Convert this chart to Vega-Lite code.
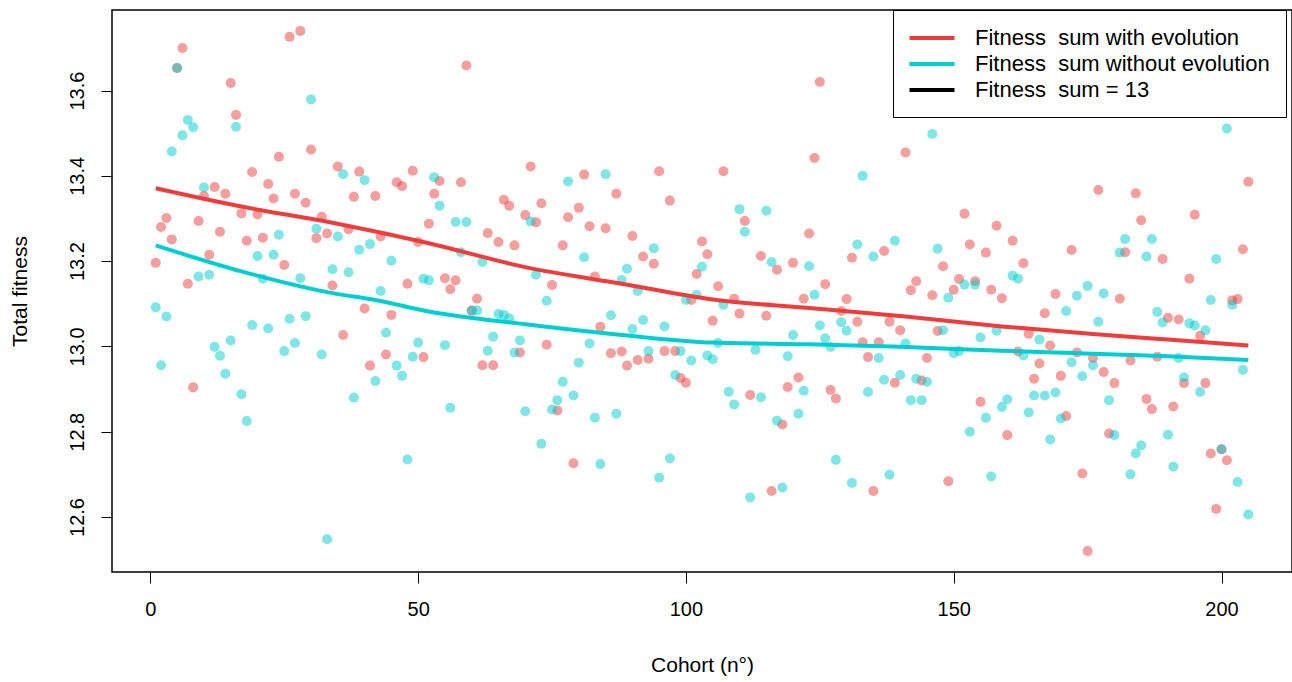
{
"$schema":"https://vega.github.io/schema/vega-lite/v6.json",
"width":1180,"height":562,
"autosize":{"type":"none"},
"padding":{"left":112,"top":10,"right":0,"bottom":110},
"background":"white",
"config":{"view":{"stroke":"black","strokeWidth":1.5},"font":"Liberation Sans"},
"datasets":{
"pts":[
{"cohort":1,"fitness":13.196,"series":"with"},{"cohort":2,"fitness":13.28,"series":"with"},{"cohort":3,"fitness":13.301,"series":"with"},{"cohort":4,"fitness":13.251,"series":"with"},{"cohort":5,"fitness":13.653,"series":"with"},{"cohort":6,"fitness":13.7,"series":"with"},{"cohort":7,"fitness":13.147,"series":"with"},{"cohort":8,"fitness":12.904,"series":"with"},{"cohort":9,"fitness":13.294,"series":"with"},{"cohort":10,"fitness":13.353,"series":"with"},
{"cohort":11,"fitness":13.215,"series":"with"},{"cohort":12,"fitness":13.374,"series":"with"},{"cohort":13,"fitness":13.269,"series":"with"},{"cohort":14,"fitness":13.358,"series":"with"},{"cohort":15,"fitness":13.618,"series":"with"},{"cohort":16,"fitness":13.543,"series":"with"},{"cohort":17,"fitness":13.312,"series":"with"},{"cohort":18,"fitness":13.248,"series":"with"},{"cohort":19,"fitness":13.409,"series":"with"},{"cohort":20,"fitness":13.31,"series":"with"},
{"cohort":21,"fitness":13.255,"series":"with"},{"cohort":22,"fitness":13.381,"series":"with"},{"cohort":23,"fitness":13.347,"series":"with"},{"cohort":24,"fitness":13.445,"series":"with"},{"cohort":25,"fitness":13.191,"series":"with"},{"cohort":26,"fitness":13.726,"series":"with"},{"cohort":27,"fitness":13.358,"series":"with"},{"cohort":28,"fitness":13.74,"series":"with"},{"cohort":29,"fitness":13.337,"series":"with"},{"cohort":30,"fitness":13.462,"series":"with"},
{"cohort":31,"fitness":13.254,"series":"with"},{"cohort":32,"fitness":13.304,"series":"with"},{"cohort":33,"fitness":13.265,"series":"with"},{"cohort":34,"fitness":13.143,"series":"with"},{"cohort":35,"fitness":13.422,"series":"with"},{"cohort":36,"fitness":13.027,"series":"with"},{"cohort":37,"fitness":13.275,"series":"with"},{"cohort":38,"fitness":13.351,"series":"with"},{"cohort":39,"fitness":13.41,"series":"with"},{"cohort":40,"fitness":13.089,"series":"with"},
{"cohort":41,"fitness":12.955,"series":"with"},{"cohort":42,"fitness":13.353,"series":"with"},{"cohort":43,"fitness":13.258,"series":"with"},{"cohort":44,"fitness":12.981,"series":"with"},{"cohort":45,"fitness":13.074,"series":"with"},{"cohort":46,"fitness":13.385,"series":"with"},{"cohort":47,"fitness":13.376,"series":"with"},{"cohort":48,"fitness":13.147,"series":"with"},{"cohort":49,"fitness":13.412,"series":"with"},{"cohort":50,"fitness":13.245,"series":"with"},
{"cohort":51,"fitness":12.975,"series":"with"},{"cohort":52,"fitness":13.288,"series":"with"},{"cohort":53,"fitness":13.358,"series":"with"},{"cohort":54,"fitness":13.388,"series":"with"},{"cohort":55,"fitness":13.16,"series":"with"},{"cohort":56,"fitness":13.134,"series":"with"},{"cohort":57,"fitness":13.155,"series":"with"},{"cohort":58,"fitness":13.385,"series":"with"},{"cohort":59,"fitness":13.659,"series":"with"},{"cohort":60,"fitness":13.084,"series":"with"},
{"cohort":61,"fitness":13.112,"series":"with"},{"cohort":62,"fitness":12.956,"series":"with"},{"cohort":63,"fitness":13.266,"series":"with"},{"cohort":64,"fitness":12.956,"series":"with"},{"cohort":65,"fitness":13.245,"series":"with"},{"cohort":66,"fitness":13.344,"series":"with"},{"cohort":67,"fitness":13.33,"series":"with"},{"cohort":68,"fitness":13.237,"series":"with"},{"cohort":69,"fitness":12.986,"series":"with"},{"cohort":70,"fitness":13.308,"series":"with"},
{"cohort":71,"fitness":13.422,"series":"with"},{"cohort":72,"fitness":13.291,"series":"with"},{"cohort":73,"fitness":13.336,"series":"with"},{"cohort":74,"fitness":13.004,"series":"with"},{"cohort":75,"fitness":13.144,"series":"with"},{"cohort":76,"fitness":12.85,"series":"with"},{"cohort":77,"fitness":13.237,"series":"with"},{"cohort":78,"fitness":13.303,"series":"with"},{"cohort":79,"fitness":12.726,"series":"with"},{"cohort":80,"fitness":13.325,"series":"with"},
{"cohort":81,"fitness":13.403,"series":"with"},{"cohort":82,"fitness":13.282,"series":"with"},{"cohort":83,"fitness":13.164,"series":"with"},{"cohort":84,"fitness":13.046,"series":"with"},{"cohort":85,"fitness":13.277,"series":"with"},{"cohort":86,"fitness":12.984,"series":"with"},{"cohort":87,"fitness":13.358,"series":"with"},{"cohort":88,"fitness":12.988,"series":"with"},{"cohort":89,"fitness":12.955,"series":"with"},{"cohort":90,"fitness":13.259,"series":"with"},
{"cohort":91,"fitness":12.968,"series":"with"},{"cohort":92,"fitness":13.211,"series":"with"},{"cohort":93,"fitness":12.971,"series":"with"},{"cohort":94,"fitness":13.194,"series":"with"},{"cohort":95,"fitness":13.411,"series":"with"},{"cohort":96,"fitness":12.989,"series":"with"},{"cohort":97,"fitness":13.342,"series":"with"},{"cohort":98,"fitness":12.989,"series":"with"},{"cohort":99,"fitness":12.926,"series":"with"},{"cohort":100,"fitness":12.915,"series":"with"},
{"cohort":101,"fitness":13.109,"series":"with"},{"cohort":102,"fitness":13.17,"series":"with"},{"cohort":103,"fitness":13.246,"series":"with"},{"cohort":104,"fitness":13.216,"series":"with"},{"cohort":105,"fitness":13.06,"series":"with"},{"cohort":106,"fitness":13.141,"series":"with"},{"cohort":107,"fitness":13.411,"series":"with"},{"cohort":109,"fitness":13.112,"series":"with"},{"cohort":110,"fitness":13.077,"series":"with"},
{"cohort":111,"fitness":13.294,"series":"with"},{"cohort":112,"fitness":12.886,"series":"with"},{"cohort":114,"fitness":13.212,"series":"with"},{"cohort":115,"fitness":13.072,"series":"with"},{"cohort":116,"fitness":12.661,"series":"with"},{"cohort":117,"fitness":13.18,"series":"with"},{"cohort":118,"fitness":12.817,"series":"with"},{"cohort":119,"fitness":12.905,"series":"with"},{"cohort":120,"fitness":13.196,"series":"with"},
{"cohort":121,"fitness":12.927,"series":"with"},{"cohort":122,"fitness":13.112,"series":"with"},{"cohort":123,"fitness":13.265,"series":"with"},{"cohort":124,"fitness":13.442,"series":"with"},{"cohort":125,"fitness":13.62,"series":"with"},{"cohort":126,"fitness":13.146,"series":"with"},{"cohort":127,"fitness":12.898,"series":"with"},{"cohort":128,"fitness":12.878,"series":"with"},{"cohort":129,"fitness":13.083,"series":"with"},{"cohort":130,"fitness":13.111,"series":"with"},
{"cohort":131,"fitness":13.208,"series":"with"},{"cohort":132,"fitness":13.058,"series":"with"},{"cohort":133,"fitness":13.01,"series":"with"},{"cohort":134,"fitness":12.975,"series":"with"},{"cohort":135,"fitness":12.661,"series":"with"},{"cohort":136,"fitness":13.01,"series":"with"},{"cohort":137,"fitness":13.224,"series":"with"},{"cohort":138,"fitness":13.058,"series":"with"},{"cohort":139,"fitness":12.915,"series":"with"},{"cohort":140,"fitness":13.038,"series":"with"},
{"cohort":141,"fitness":13.455,"series":"with"},{"cohort":142,"fitness":13.132,"series":"with"},{"cohort":143,"fitness":13.153,"series":"with"},{"cohort":144,"fitness":12.92,"series":"with"},{"cohort":145,"fitness":12.973,"series":"with"},{"cohort":146,"fitness":13.12,"series":"with"},{"cohort":147,"fitness":13.036,"series":"with"},{"cohort":148,"fitness":13.188,"series":"with"},{"cohort":149,"fitness":12.684,"series":"with"},{"cohort":150,"fitness":13.133,"series":"with"},
{"cohort":151,"fitness":13.158,"series":"with"},{"cohort":152,"fitness":13.311,"series":"with"},{"cohort":153,"fitness":13.239,"series":"with"},{"cohort":154,"fitness":13.153,"series":"with"},{"cohort":155,"fitness":12.87,"series":"with"},{"cohort":156,"fitness":13.22,"series":"with"},{"cohort":157,"fitness":13.133,"series":"with"},{"cohort":158,"fitness":13.283,"series":"with"},{"cohort":159,"fitness":13.113,"series":"with"},{"cohort":160,"fitness":12.792,"series":"with"},
{"cohort":161,"fitness":13.248,"series":"with"},{"cohort":162,"fitness":12.988,"series":"with"},{"cohort":163,"fitness":13.195,"series":"with"},{"cohort":164,"fitness":13.03,"series":"with"},{"cohort":165,"fitness":12.924,"series":"with"},{"cohort":166,"fitness":12.96,"series":"with"},{"cohort":167,"fitness":13.078,"series":"with"},{"cohort":168,"fitness":13.002,"series":"with"},{"cohort":169,"fitness":13.123,"series":"with"},{"cohort":170,"fitness":12.931,"series":"with"},
{"cohort":171,"fitness":12.837,"series":"with"},{"cohort":172,"fitness":13.226,"series":"with"},{"cohort":173,"fitness":12.986,"series":"with"},{"cohort":174,"fitness":12.702,"series":"with"},{"cohort":175,"fitness":12.52,"series":"with"},{"cohort":176,"fitness":12.973,"series":"with"},{"cohort":177,"fitness":13.367,"series":"with"},{"cohort":178,"fitness":12.94,"series":"with"},{"cohort":179,"fitness":12.796,"series":"with"},{"cohort":180,"fitness":12.914,"series":"with"},
{"cohort":181,"fitness":13.112,"series":"with"},{"cohort":182,"fitness":13.221,"series":"with"},{"cohort":183,"fitness":12.967,"series":"with"},{"cohort":184,"fitness":13.359,"series":"with"},{"cohort":185,"fitness":13.296,"series":"with"},{"cohort":186,"fitness":12.877,"series":"with"},{"cohort":187,"fitness":12.853,"series":"with"},{"cohort":188,"fitness":12.976,"series":"with"},{"cohort":189,"fitness":13.205,"series":"with"},{"cohort":190,"fitness":13.067,"series":"with"},
{"cohort":191,"fitness":12.859,"series":"with"},{"cohort":192,"fitness":13.063,"series":"with"},{"cohort":193,"fitness":12.914,"series":"with"},{"cohort":194,"fitness":13.159,"series":"with"},{"cohort":195,"fitness":13.309,"series":"with"},{"cohort":196,"fitness":13.025,"series":"with"},{"cohort":197,"fitness":12.914,"series":"with"},{"cohort":198,"fitness":12.749,"series":"with"},{"cohort":199,"fitness":12.619,"series":"with"},{"cohort":200,"fitness":12.759,"series":"with"},
{"cohort":201,"fitness":12.733,"series":"with"},{"cohort":202,"fitness":13.108,"series":"with"},{"cohort":203,"fitness":13.111,"series":"with"},{"cohort":204,"fitness":13.228,"series":"with"},{"cohort":205,"fitness":13.386,"series":"with"},
{"cohort":1,"fitness":13.092,"series":"without"},{"cohort":2,"fitness":12.956,"series":"without"},{"cohort":3,"fitness":13.07,"series":"without"},{"cohort":4,"fitness":13.457,"series":"without"},{"cohort":5,"fitness":13.653,"series":"without"},{"cohort":6,"fitness":13.495,"series":"without"},{"cohort":7,"fitness":13.531,"series":"without"},{"cohort":8,"fitness":13.514,"series":"without"},{"cohort":9,"fitness":13.164,"series":"without"},{"cohort":10,"fitness":13.373,"series":"without"},
{"cohort":11,"fitness":13.168,"series":"without"},{"cohort":12,"fitness":12.999,"series":"without"},{"cohort":13,"fitness":12.978,"series":"without"},{"cohort":14,"fitness":12.936,"series":"without"},{"cohort":15,"fitness":13.014,"series":"without"},{"cohort":16,"fitness":13.515,"series":"without"},{"cohort":17,"fitness":12.888,"series":"without"},{"cohort":18,"fitness":12.825,"series":"without"},{"cohort":19,"fitness":13.05,"series":"without"},{"cohort":20,"fitness":13.212,"series":"without"},
{"cohort":21,"fitness":13.159,"series":"without"},{"cohort":22,"fitness":13.042,"series":"without"},{"cohort":23,"fitness":13.215,"series":"without"},{"cohort":24,"fitness":13.262,"series":"without"},{"cohort":25,"fitness":12.989,"series":"without"},{"cohort":26,"fitness":13.065,"series":"without"},{"cohort":27,"fitness":13.008,"series":"without"},{"cohort":28,"fitness":13.16,"series":"without"},{"cohort":29,"fitness":13.071,"series":"without"},{"cohort":30,"fitness":13.579,"series":"without"},
{"cohort":31,"fitness":13.276,"series":"without"},{"cohort":32,"fitness":12.981,"series":"without"},{"cohort":33,"fitness":12.548,"series":"without"},{"cohort":34,"fitness":13.181,"series":"without"},{"cohort":35,"fitness":13.258,"series":"without"},{"cohort":36,"fitness":13.404,"series":"without"},{"cohort":37,"fitness":13.174,"series":"without"},{"cohort":38,"fitness":12.88,"series":"without"},{"cohort":39,"fitness":13.227,"series":"without"},{"cohort":40,"fitness":13.39,"series":"without"},
{"cohort":41,"fitness":13.24,"series":"without"},{"cohort":42,"fitness":12.919,"series":"without"},{"cohort":43,"fitness":13.13,"series":"without"},{"cohort":44,"fitness":13.032,"series":"without"},{"cohort":45,"fitness":13.201,"series":"without"},{"cohort":46,"fitness":12.955,"series":"without"},{"cohort":47,"fitness":12.931,"series":"without"},{"cohort":48,"fitness":12.735,"series":"without"},{"cohort":49,"fitness":12.976,"series":"without"},{"cohort":50,"fitness":13.009,"series":"without"},
{"cohort":51,"fitness":13.159,"series":"without"},{"cohort":52,"fitness":13.155,"series":"without"},{"cohort":53,"fitness":13.397,"series":"without"},{"cohort":54,"fitness":13.33,"series":"without"},{"cohort":55,"fitness":13.003,"series":"without"},{"cohort":56,"fitness":12.856,"series":"without"},{"cohort":57,"fitness":13.292,"series":"without"},{"cohort":58,"fitness":13.221,"series":"without"},{"cohort":59,"fitness":13.292,"series":"without"},{"cohort":60,"fitness":13.084,"series":"without"},
{"cohort":61,"fitness":13.084,"series":"without"},{"cohort":62,"fitness":13.198,"series":"without"},{"cohort":63,"fitness":12.99,"series":"without"},{"cohort":64,"fitness":13.023,"series":"without"},{"cohort":65,"fitness":13.076,"series":"without"},{"cohort":66,"fitness":13.074,"series":"without"},{"cohort":67,"fitness":13.066,"series":"without"},{"cohort":68,"fitness":12.986,"series":"without"},{"cohort":69,"fitness":13.014,"series":"without"},{"cohort":70,"fitness":12.848,"series":"without"},
{"cohort":71,"fitness":13.293,"series":"without"},{"cohort":72,"fitness":13.168,"series":"without"},{"cohort":73,"fitness":12.772,"series":"without"},{"cohort":74,"fitness":13.107,"series":"without"},{"cohort":75,"fitness":12.852,"series":"without"},{"cohort":76,"fitness":12.874,"series":"without"},{"cohort":77,"fitness":12.917,"series":"without"},{"cohort":78,"fitness":13.387,"series":"without"},{"cohort":79,"fitness":12.885,"series":"without"},{"cohort":80,"fitness":12.962,"series":"without"},
{"cohort":81,"fitness":13.209,"series":"without"},{"cohort":82,"fitness":13.007,"series":"without"},{"cohort":83,"fitness":12.833,"series":"without"},{"cohort":84,"fitness":12.724,"series":"without"},{"cohort":85,"fitness":13.404,"series":"without"},{"cohort":86,"fitness":13.073,"series":"without"},{"cohort":87,"fitness":12.842,"series":"without"},{"cohort":88,"fitness":13.156,"series":"without"},{"cohort":89,"fitness":13.182,"series":"without"},{"cohort":90,"fitness":13.041,"series":"without"},
{"cohort":91,"fitness":13.13,"series":"without"},{"cohort":92,"fitness":13.062,"series":"without"},{"cohort":93,"fitness":12.989,"series":"without"},{"cohort":94,"fitness":13.23,"series":"without"},{"cohort":95,"fitness":12.692,"series":"without"},{"cohort":96,"fitness":13.047,"series":"without"},{"cohort":97,"fitness":12.737,"series":"without"},{"cohort":98,"fitness":12.933,"series":"without"},{"cohort":99,"fitness":12.989,"series":"without"},{"cohort":100,"fitness":13.109,"series":"without"},
{"cohort":101,"fitness":12.967,"series":"without"},{"cohort":102,"fitness":13.121,"series":"without"},{"cohort":103,"fitness":13.187,"series":"without"},{"cohort":104,"fitness":12.979,"series":"without"},{"cohort":105,"fitness":12.97,"series":"without"},{"cohort":106,"fitness":13.008,"series":"without"},{"cohort":107,"fitness":13.098,"series":"without"},{"cohort":108,"fitness":12.894,"series":"without"},{"cohort":109,"fitness":12.864,"series":"without"},{"cohort":110,"fitness":13.322,"series":"without"},
{"cohort":111,"fitness":13.269,"series":"without"},{"cohort":112,"fitness":12.646,"series":"without"},{"cohort":113,"fitness":12.992,"series":"without"},{"cohort":114,"fitness":12.881,"series":"without"},{"cohort":115,"fitness":13.318,"series":"without"},{"cohort":116,"fitness":13.198,"series":"without"},{"cohort":117,"fitness":12.826,"series":"without"},{"cohort":118,"fitness":12.669,"series":"without"},{"cohort":119,"fitness":12.977,"series":"without"},{"cohort":120,"fitness":13.027,"series":"without"},
{"cohort":121,"fitness":12.842,"series":"without"},{"cohort":122,"fitness":12.896,"series":"without"},{"cohort":123,"fitness":13.188,"series":"without"},{"cohort":124,"fitness":13.121,"series":"without"},{"cohort":125,"fitness":13.049,"series":"without"},{"cohort":126,"fitness":13.019,"series":"without"},{"cohort":127,"fitness":12.999,"series":"without"},{"cohort":128,"fitness":12.734,"series":"without"},{"cohort":129,"fitness":13.057,"series":"without"},{"cohort":130,"fitness":13.037,"series":"without"},
{"cohort":131,"fitness":12.68,"series":"without"},{"cohort":132,"fitness":13.239,"series":"without"},{"cohort":133,"fitness":13.4,"series":"without"},{"cohort":134,"fitness":12.893,"series":"without"},{"cohort":135,"fitness":13.211,"series":"without"},{"cohort":136,"fitness":12.973,"series":"without"},{"cohort":137,"fitness":12.922,"series":"without"},{"cohort":138,"fitness":12.699,"series":"without"},{"cohort":139,"fitness":13.248,"series":"without"},{"cohort":140,"fitness":12.933,"series":"without"},
{"cohort":141,"fitness":13.007,"series":"without"},{"cohort":142,"fitness":12.874,"series":"without"},{"cohort":143,"fitness":12.924,"series":"without"},{"cohort":144,"fitness":12.874,"series":"without"},{"cohort":145,"fitness":12.917,"series":"without"},{"cohort":146,"fitness":13.498,"series":"without"},{"cohort":147,"fitness":13.229,"series":"without"},{"cohort":148,"fitness":13.038,"series":"without"},{"cohort":149,"fitness":13.114,"series":"without"},{"cohort":150,"fitness":12.984,"series":"without"},
{"cohort":151,"fitness":12.989,"series":"without"},{"cohort":152,"fitness":13.145,"series":"without"},{"cohort":153,"fitness":12.8,"series":"without"},{"cohort":154,"fitness":13.145,"series":"without"},{"cohort":155,"fitness":13.021,"series":"without"},{"cohort":156,"fitness":12.833,"series":"without"},{"cohort":157,"fitness":12.695,"series":"without"},{"cohort":158,"fitness":13.037,"series":"without"},{"cohort":159,"fitness":12.858,"series":"without"},{"cohort":160,"fitness":12.876,"series":"without"},
{"cohort":161,"fitness":13.166,"series":"without"},{"cohort":162,"fitness":13.159,"series":"without"},{"cohort":163,"fitness":12.979,"series":"without"},{"cohort":164,"fitness":12.845,"series":"without"},{"cohort":165,"fitness":12.885,"series":"without"},{"cohort":166,"fitness":13.016,"series":"without"},{"cohort":167,"fitness":12.885,"series":"without"},{"cohort":168,"fitness":12.782,"series":"without"},{"cohort":169,"fitness":12.892,"series":"without"},{"cohort":170,"fitness":12.831,"series":"without"},
{"cohort":171,"fitness":13.083,"series":"without"},{"cohort":172,"fitness":12.963,"series":"without"},{"cohort":173,"fitness":13.119,"series":"without"},{"cohort":174,"fitness":12.93,"series":"without"},{"cohort":175,"fitness":13.142,"series":"without"},{"cohort":176,"fitness":12.956,"series":"without"},{"cohort":177,"fitness":13.058,"series":"without"},{"cohort":178,"fitness":13.124,"series":"without"},{"cohort":179,"fitness":12.874,"series":"without"},{"cohort":180,"fitness":12.792,"series":"without"},
{"cohort":181,"fitness":13.22,"series":"without"},{"cohort":182,"fitness":13.252,"series":"without"},{"cohort":183,"fitness":12.7,"series":"without"},{"cohort":184,"fitness":12.749,"series":"without"},{"cohort":185,"fitness":12.768,"series":"without"},{"cohort":186,"fitness":13.211,"series":"without"},{"cohort":187,"fitness":13.252,"series":"without"},{"cohort":188,"fitness":13.081,"series":"without"},{"cohort":189,"fitness":13.056,"series":"without"},{"cohort":190,"fitness":12.793,"series":"without"},
{"cohort":191,"fitness":12.718,"series":"without"},{"cohort":192,"fitness":12.973,"series":"without"},{"cohort":193,"fitness":12.927,"series":"without"},{"cohort":194,"fitness":13.054,"series":"without"},{"cohort":195,"fitness":13.049,"series":"without"},{"cohort":196,"fitness":12.893,"series":"without"},{"cohort":197,"fitness":13.038,"series":"without"},{"cohort":198,"fitness":13.109,"series":"without"},{"cohort":199,"fitness":13.205,"series":"without"},{"cohort":200,"fitness":12.759,"series":"without"},
{"cohort":201,"fitness":13.511,"series":"without"},{"cohort":202,"fitness":13.098,"series":"without"},{"cohort":203,"fitness":12.682,"series":"without"},{"cohort":204,"fitness":12.945,"series":"without"},{"cohort":205,"fitness":12.606,"series":"without"}
],
"curves":[
{"cohort":1,"fitness":13.371,"series":"with"},{"cohort":17,"fitness":13.328,"series":"with"},{"cohort":34,"fitness":13.29,"series":"with"},{"cohort":52,"fitness":13.242,"series":"with"},{"cohort":70,"fitness":13.186,"series":"with"},{"cohort":88,"fitness":13.147,"series":"with"},{"cohort":105,"fitness":13.11,"series":"with"},{"cohort":123,"fitness":13.09,"series":"with"},{"cohort":141,"fitness":13.07,"series":"with"},{"cohort":159,"fitness":13.047,"series":"with"},{"cohort":176,"fitness":13.029,"series":"with"},{"cohort":190,"fitness":13.016,"series":"with"},{"cohort":205,"fitness":13.002,"series":"with"},
{"cohort":1,"fitness":13.237,"series":"without"},{"cohort":17,"fitness":13.176,"series":"without"},{"cohort":34,"fitness":13.125,"series":"without"},{"cohort":42,"fitness":13.109,"series":"without"},{"cohort":52,"fitness":13.082,"series":"without"},{"cohort":70,"fitness":13.052,"series":"without"},{"cohort":88,"fitness":13.027,"series":"without"},{"cohort":105,"fitness":13.009,"series":"without"},{"cohort":123,"fitness":13.005,"series":"without"},{"cohort":140,"fitness":12.999,"series":"without"},{"cohort":159,"fitness":12.99,"series":"without"},{"cohort":176,"fitness":12.983,"series":"without"},{"cohort":190,"fitness":12.977,"series":"without"},{"cohort":205,"fitness":12.968,"series":"without"}
]
},
"encoding":{
"x":{"field":"cohort","type":"quantitative","scale":{"domain":[-7.16,213.16],"nice":false,"zero":false},
 "axis":{"values":[0,50,100,150,200],"domain":false,"grid":false,"ticks":true,"tickColor":"black","tickSize":11,"tickWidth":1,"labelFontSize":20,"labelColor":"black","labelPadding":16,"labelFont":"Liberation Sans","title":"Cohort (n°)","titleFontSize":21,"titleFont":"Liberation Sans","titleFontWeight":"normal","titleColor":"black","titleY":93,"titleBaseline":"middle"}},
"y":{"field":"fitness","type":"quantitative","scale":{"domain":[12.471,13.789],"nice":false,"zero":false},
 "axis":{"values":[12.6,12.8,13.0,13.2,13.4,13.6],"format":".1f","domain":false,"grid":false,"ticks":true,"tickColor":"black","tickSize":11,"tickWidth":1,"labelFontSize":20,"labelColor":"black","labelAngle":270,"labelAlign":"center","labelBaseline":"bottom","labelPadding":14,"labelFont":"Liberation Sans","title":"Total fitness","titleFontSize":21,"titleFont":"Liberation Sans","titleFontWeight":"normal","titleColor":"black","titleX":-92,"titleY":281,"titleAlign":"center","titleBaseline":"middle","titleAngle":270}}
},
"layer":[
{"data":{"name":"pts"},"mark":{"type":"point","filled":true,"size":100,"opacity":0.5,"strokeWidth":0},
 "encoding":{"fill":{"field":"series","type":"nominal","scale":{"domain":["with","without"],"range":["#EE3B3B","#00CED1"]},"legend":null}}},
{"data":{"values":[{"k":"eq13"}]},"mark":{"type":"rule","strokeWidth":4},
 "encoding":{"y":{"datum":13},"x":null,"color":{"datum":"eq13"}}},
{"data":{"name":"curves"},"mark":{"type":"line","strokeWidth":4,"interpolate":"monotone"},
 "encoding":{"color":{"field":"series","type":"nominal","scale":{"domain":["with","without","eq13"],"range":["#EE3B3B","#00CED1","#000000"]},
  "legend":{"orient":"none","legendX":781,"legendY":0,"title":null,"symbolType":"M-2.25,0H2.25","symbolSize":400,"symbolStrokeWidth":4,"symbolOffset":11,"labelFontSize":22,"labelFont":"Liberation Sans","labelColor":"black","labelOffset":31,"labelLimit":500,"padding":16,"rowPadding":3,"strokeColor":"black","fillColor":"white","cornerRadius":0,
   "labelExpr":"datum.label == 'with' ? 'Fitness\u00a0 sum with evolution' : datum.label == 'without' ? 'Fitness\u00a0 sum without evolution' : 'Fitness\u00a0 sum = 13'"}}}}
]
}
